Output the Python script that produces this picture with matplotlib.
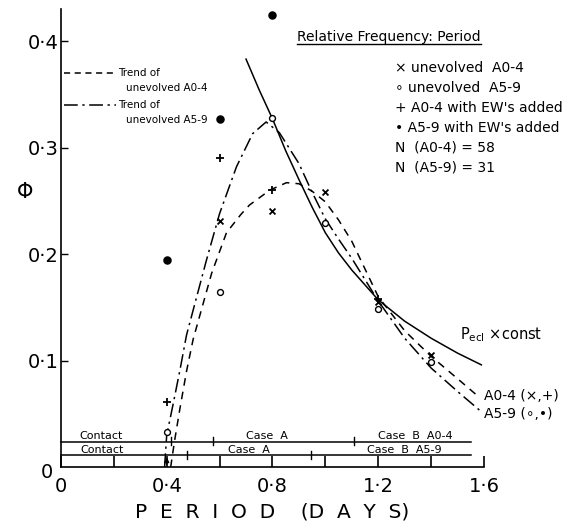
import matplotlib
matplotlib.use("Agg")
import matplotlib.pyplot as plt

# binned periods (days)
period_x = [0.6, 0.8, 1.0, 1.2, 1.4]
phi_x = [0.231, 0.240, 0.258, 0.155, 0.105]          # x  unevolved A0-4
period_o = [0.4, 0.6, 0.8, 1.0, 1.2, 1.4]
phi_o = [0.033, 0.164, 0.328, 0.229, 0.148, 0.099]   # o  unevolved A5-9
period_plus = [0.4, 0.6, 0.8, 1.2]
phi_plus = [0.061, 0.290, 0.260, 0.158]              # +  A0-4 with EW's added
period_dot = [0.4, 0.6, 0.8]
phi_dot = [0.194, 0.327, 0.424]                      # .  A5-9 with EW's added

# curves
pecl_x = [0.70, 0.75, 0.80, 0.85, 0.90, 0.95, 1.00, 1.05, 1.10, 1.20, 1.30, 1.40, 1.50, 1.59]
pecl_y = [0.383, 0.354, 0.327, 0.297, 0.270, 0.244, 0.220, 0.201, 0.185, 0.157, 0.137, 0.121, 0.107, 0.096]

trend04_x = [0.415, 0.43, 0.45, 0.475, 0.50, 0.57, 0.626, 0.68, 0.713, 0.79, 0.853, 0.90, 0.95, 1.00,
             1.05, 1.10, 1.15, 1.20, 1.30, 1.40, 1.50, 1.58]
trend04_y = [0.0, 0.025, 0.055, 0.090, 0.120, 0.182, 0.220, 0.237, 0.246, 0.260, 0.267, 0.266, 0.259,
             0.249, 0.232, 0.212, 0.186, 0.160, 0.128, 0.104, 0.083, 0.066]

trend59_x = [0.392, 0.40, 0.425, 0.45, 0.475, 0.55, 0.60, 0.664, 0.725, 0.776, 0.826, 0.90, 0.95,
             1.00, 1.05, 1.10, 1.15, 1.20, 1.30, 1.40, 1.50, 1.59]
trend59_y = [0.0, 0.030, 0.060, 0.091, 0.124, 0.194, 0.238, 0.282, 0.313, 0.324, 0.314, 0.285, 0.258,
             0.233, 0.214, 0.196, 0.176, 0.156, 0.121, 0.093, 0.071, 0.052]

# evolutionary case bands
band_y = [0.024, 0.011]
band_end = 1.55
band_ticks = [[0.415, 0.575, 1.11], [0.476, 0.947]]
band_labels = [[(0.15, "Contact"), (0.78, "Case  A"), (1.34, "Case  B  A0-4")],
               [(0.155, "Contact"), (0.71, "Case  A"), (1.30, "Case  B  A5-9")]]

x_ticks = [0, 0.4, 0.8, 1.2, 1.6]
x_ticklabels = ["0", "0·4", "0·8", "1·2", "1·6"]
x_minor = [0.2, 0.6, 1.0, 1.4]
y_ticks = [0.1, 0.2, 0.3, 0.4]
y_ticklabels = ["0·1", "0·2", "0·3", "0·4"]

legend_rows = ["× unevolved  A0-4", "∘ unevolved  A5-9", "+ A0-4 with EW's added",
               "• A5-9 with EW's added", "N  (A0-4) = 58", "N  (A5-9) = 31"]

fig = plt.figure(figsize=(5.75, 5.32), dpi=100)
ax = fig.add_axes([0.106, 0.122, 0.7357, 0.861])
ax.set_xlim(0, 1.6)
ax.set_ylim(0, 0.43)
for s in ["top", "right"]:
    ax.spines[s].set_visible(False)
for s in ["left", "bottom"]:
    ax.spines[s].set_linewidth(1.2)

ax.set_xticks(x_ticks)
ax.set_xticklabels(x_ticklabels, fontsize=14)
ax.set_xticks(x_minor, minor=True)
ax.set_yticks(y_ticks)
ax.set_yticklabels(y_ticklabels, fontsize=14)
ax.tick_params(axis="x", which="both", direction="in", length=8, width=1.2, pad=7)
ax.tick_params(axis="y", direction="in", length=5, width=1.0, pad=2)
ax.text(-0.03, -0.005, "0", fontsize=14, ha="right", va="center")

ax.set_xlabel("P  E  R  I  O  D    (D  A  Y  S)", fontsize=14.5, labelpad=5)
ax.text(-0.135, 0.258, "Φ", fontsize=15, ha="center", va="center")

# curves
ax.plot(pecl_x, pecl_y, color="black", lw=1.1)
ax.plot(trend04_x, trend04_y, color="black", lw=1.1, dashes=(5, 4))
ax.plot(trend59_x, trend59_y, color="black", lw=1.1, dashes=(9, 3, 1.5, 3))

# data points
ax.scatter(period_x, phi_x, marker="x", s=18, color="black", linewidths=1.3, zorder=3)
ax.scatter(period_o, phi_o, marker="o", s=18, facecolors="white", edgecolors="black", linewidths=1.0, zorder=3)
ax.scatter(period_plus, phi_plus, marker="+", s=26, color="black", linewidths=1.3, zorder=3)
ax.scatter(period_dot, phi_dot, marker="o", s=26, color="black", zorder=3)

# case bands
for yb, ticks, labels in zip(band_y, band_ticks, band_labels):
    ax.plot([0, band_end], [yb, yb], color="black", lw=1.1, clip_on=False)
    for t in ticks:
        ax.plot([t, t], [yb - 0.003, yb + 0.004], color="black", lw=1.0)
    for xl, s in labels:
        ax.text(xl, yb + 0.0008, s, fontsize=8, ha="center", va="bottom")
ax.annotate("", xy=(0.4, 0.012), xytext=(0.4, 0.0),
            arrowprops=dict(arrowstyle="-|>", color="black", lw=1.0, mutation_scale=7))

# left key
ax.plot([0.01, 0.21], [0.370, 0.370], color="black", lw=1.1, dashes=(4, 3))
ax.text(0.215, 0.370, "Trend of", fontsize=7.5, va="center")
ax.text(0.245, 0.356, "unevolved A0-4", fontsize=7.5, va="center")
ax.plot([0.01, 0.21], [0.340, 0.340], color="black", lw=1.1, dashes=(9, 3, 1.5, 3))
ax.text(0.215, 0.340, "Trend of", fontsize=7.5, va="center")
ax.text(0.245, 0.326, "unevolved A5-9", fontsize=7.5, va="center")

# right key
ax.text(0.894, 0.404, "Relative Frequency: Period", fontsize=10, va="center")
ax.plot([0.894, 1.59], [0.397, 0.397], color="black", lw=1.0)
for i, row in enumerate(legend_rows):
    ax.text(1.265, 0.375 - i * 0.0188, row, fontsize=10, va="center", clip_on=False)

# curve labels
ax.text(1.51, 0.124, r"$\mathrm{P}_{\mathrm{ecl}}$ ×const", fontsize=10.5, va="center")
ax.text(1.60, 0.067, "A0-4 (×,+)", fontsize=10, va="center", clip_on=False)
ax.text(1.60, 0.050, "A5-9 (∘,•)", fontsize=10, va="center", clip_on=False)

fig.savefig("out.png", dpi=100)
